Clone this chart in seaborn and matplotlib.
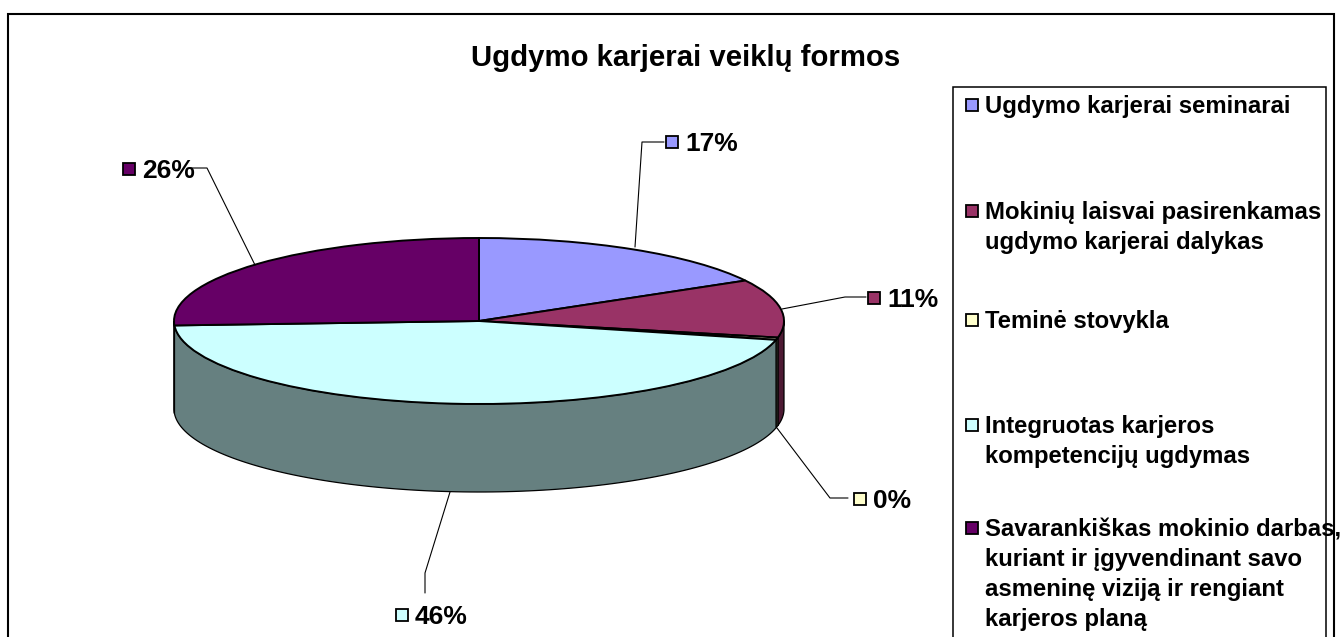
import numpy as np
import matplotlib
matplotlib.use("Agg")
import matplotlib.pyplot as plt
import matplotlib.colors as mcolors
from matplotlib.patches import Rectangle
import seaborn as sns

# Data
categories = [
    "Ugdymo karjerai seminarai",
    "Mokinių laisvai pasirenkamas\nugdymo karjerai dalykas",
    "Teminė stovykla",
    "Integruotas karjeros\nkompetencijų ugdymas",
    "Savarankiškas mokinio darbas,\nkuriant ir įgyvendinant savo\nasmeninę viziją ir rengiant\nkarjeros planą",
]
values = [16.9, 11.3, 0.45, 45.5, 25.85]
value_labels = ["17%", "11%", "0%", "46%", "26%"]
colors = ["#9999FF", "#993366", "#FFFFCC", "#CCFFFF", "#660066"]

sns.set_theme(style="white")
plt.rcParams["font.family"] = ["Liberation Sans", "DejaVu Sans"]
palette = sns.color_palette(colors)

W, H = 1342, 637
CX, CY, RX, RY, DEPTH = 479, 321, 305, 83, 88


def px(x, y):
    # picture pixels to pie data units
    return (x - CX) / RX, (CY - y) / RY


fig = plt.figure(figsize=(W / 100, H / 100), dpi=100, facecolor="white")
ax = fig.add_axes([0, 0, 1, 1])

wedges, _ = ax.pie(
    values,
    colors=palette,
    startangle=90,
    counterclock=False,
    wedgeprops={"edgecolor": "black", "linewidth": 1.4, "zorder": 3},
)
ax.set_aspect("auto")
ax.set_xlim(px(0, 0)[0], px(W, 0)[0])
ax.set_ylim(px(0, H)[1], px(0, 0)[1])
ax.set_axis_off()

# Side wall of the pie, only the front half shows
drop = DEPTH / RY
for wedge, color in zip(wedges, palette):
    a1 = max(wedge.theta1, -180)
    a2 = min(wedge.theta2, 0)
    if a2 <= a1:
        continue
    t = np.radians(np.linspace(a1, a2, 120))
    x = np.cos(t)
    y = np.sin(t)
    dark = tuple(c * 0.5 for c in mcolors.to_rgb(color))
    ax.fill(
        np.r_[x, x[::-1]], np.r_[y, y[::-1] - drop],
        facecolor=dark, edgecolor="black", linewidth=0.9, zorder=2,
    )

# Outer frame and legend box run off the bottom of the picture
ax.add_patch(Rectangle((7.5 / W, -0.1), 1326 / W, 1.1 - 13.5 / H,
                       transform=ax.transAxes, fill=False,
                       edgecolor="black", linewidth=1.5, zorder=1))
ax.add_patch(Rectangle((953 / W, -0.1), 373 / W, 1.1 - 86.5 / H,
                       transform=ax.transAxes, fill=False,
                       edgecolor="black", linewidth=1.1, zorder=1))

ax.text(*px(686, 58), "Ugdymo karjerai veiklų formos", fontsize=21.2,
        fontweight="bold", color="black", ha="center", va="center")

# Leader lines and value labels
leaders = [
    [(635, 247), (642, 142), (664, 142)],
    [(782, 309), (845, 297), (866, 297)],
    [(777, 428), (830, 498), (848, 498)],
    [(450, 492), (425, 573), (425, 593)],
    [(255, 265), (207, 168), (190, 168)],
]
label_pos = [(672, 142), (874, 298), (860, 499), (402, 615), (129, 169)]
for pts, (mx, my), text, color in zip(leaders, label_pos, value_labels, palette):
    xy = [px(*p) for p in pts]
    ax.plot(*zip(*xy), color="black", linewidth=0.8, zorder=4)
    ax.plot(*px(mx, my), marker="s", markersize=9, markerfacecolor=color,
            markeredgecolor="black", markeredgewidth=1.3, zorder=5)
    ax.text(*px(mx + 13, my + 2), text, fontsize=19, fontweight="bold",
            color="black", ha="left", va="center", zorder=5)

# Legend entries sit at uneven heights, so they are placed one by one
legend_y = [105, 211, 320, 425, 528]
for name, y, color in zip(categories, legend_y, palette):
    ax.plot(*px(972, y), marker="s", markersize=8.6, markerfacecolor=color,
            markeredgecolor="black", markeredgewidth=1.3, zorder=5)
    ax.text(*px(985, y - 10), name, fontsize=17.2, fontweight="bold",
            color="black", ha="left", va="top", linespacing=1.39, zorder=5)

fig.savefig("out.png", dpi=100)
